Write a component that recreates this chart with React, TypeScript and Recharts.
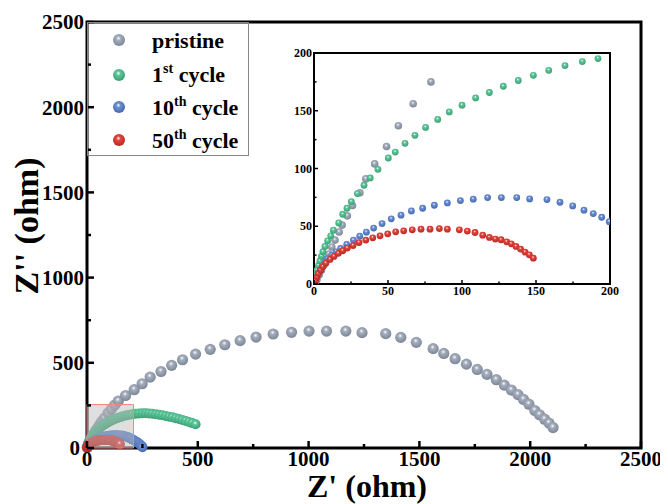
import React from 'react'

import { ScatterChart, Scatter, XAxis, YAxis, ReferenceArea } from 'recharts'

const serif = "'Liberation Serif', serif"

// pristine
const pristineX = [1, 2, 3.5, 5, 6.5, 8, 10, 12, 14.2, 17, 19, 22.5, 26, 31, 35, 41, 49, 57, 67, 79, 95, 110, 125, 141, 174, 213, 249, 285, 334, 382, 431, 490, 556, 622, 691, 763, 840, 923, 1002, 1081, 1168, 1241, 1348, 1416, 1486, 1562, 1610, 1661, 1712, 1761, 1805, 1847, 1883, 1915, 1945, 1970, 1994, 2021, 2042, 2065, 2085, 2103]
const pristineY = [2, 4, 8, 12, 16, 21, 26, 32, 38, 45, 51, 59, 68, 79, 91, 104, 119, 137, 156, 175, 205, 228, 252, 275, 308, 342, 377, 416, 449, 485, 518, 551, 579, 606, 630, 651, 669, 679, 686, 686, 686, 677, 671, 649, 620, 583, 555, 524, 492, 461, 432, 401, 369, 340, 313, 285, 257, 220, 195, 169, 146, 120]

// 1st cycle
const cycle1X = [0.5, 1, 1.5, 2, 3, 4, 5, 6, 7.4, 9.2, 11.3, 13.1, 16.7, 19.4, 22.3, 25.2, 29.3, 33.8, 38, 43.2, 50.2, 54.9, 61.5, 68.2, 75.4, 83.6, 91.4, 100, 109.2, 118.5, 127.9, 138, 148.2, 158.6, 169.6, 181.3, 191.9, 205, 220, 235, 250, 265, 280, 295, 310, 325, 340, 355, 370, 385, 400, 415, 430, 445, 460, 475, 490]
const cycle1Y = [3, 6, 9, 12, 16, 20, 24, 28, 32.5, 37.4, 41.7, 46.6, 52.9, 60.4, 65.6, 71.3, 78.3, 85.5, 91.8, 99.3, 109.1, 114.2, 121.8, 128.7, 135.6, 142.5, 149, 154.8, 161.1, 165.8, 171.2, 176.2, 180.7, 185, 189.1, 192.6, 195.2, 198, 201, 203, 204, 204, 203, 201, 198, 195, 192, 188, 184, 180, 175, 170, 165, 159, 153, 146, 139]

// 10th cycle
const cycle10X = [1.2, 1.9, 3, 4.1, 5.7, 7.3, 9.1, 12, 14.9, 18, 22.1, 26.6, 30.9, 35.4, 40.3, 46, 52.2, 58.8, 65.8, 73.4, 81.3, 90.1, 98.9, 107.6, 117.3, 126.6, 137, 145.7, 157.4, 166.2, 174.8, 182.4, 188.7, 194.4, 199.5, 206, 213, 221, 229, 236, 242, 247, 250]
const cycle10Y = [3, 6, 9.4, 12.2, 15.7, 18.5, 22, 25, 27.9, 30.8, 34.2, 38, 41.4, 44.9, 48.4, 52.3, 56.4, 59.6, 63.3, 65.6, 68.2, 70.2, 72.2, 73.4, 74.8, 74.8, 74.8, 73.7, 73.1, 70.8, 67.6, 63.9, 61, 57.8, 54, 49, 44, 38, 32, 25, 18, 11, 5]

// 50th cycle
const cycle50X = [1, 2, 3, 4.5, 6, 8, 10.8, 13.5, 16.4, 19.4, 22.5, 26.4, 30.4, 35, 39.7, 44.6, 49.8, 55.2, 60.6, 66.4, 72.3, 78.4, 84.7, 90.1, 98.2, 103.6, 108.8, 114, 118.5, 122.5, 126.4, 130.2, 133.3, 136.5, 139.6, 142.6, 145.5, 148.2]
const cycle50Y = [3, 6, 9, 12, 15, 18, 21.3, 23.9, 26.5, 28.8, 31.1, 33.3, 35.9, 38, 40, 41.7, 43.4, 45.2, 46, 46.9, 47.5, 47.5, 48, 47.5, 46.9, 45.8, 44.6, 42.3, 40.3, 38.9, 38.3, 36.5, 34.8, 32.5, 30.2, 27.6, 25.3, 22.4]

const mainTicks = [0, 250, 500, 750, 1000, 1250, 1500, 1750, 2000, 2250, 2500]
const insetTicks = [0, 25, 50, 75, 100, 125, 150, 175, 200]

const toPoints = (xs: number[], ys: number[]) => xs.map((x, i) => ({ x, y: ys[i] }))

const series = [
  { id: 'pristine', name: 'pristine', sup: '', tail: '', color: '#a5aebc', dark: '#7c8596', data: toPoints(pristineX, pristineY) },
  { id: 'c1', name: '1', sup: 'st', tail: ' cycle', color: '#5ec89b', dark: '#3a9f73', data: toPoints(cycle1X, cycle1Y) },
  { id: 'c10', name: '10', sup: 'th', tail: ' cycle', color: '#6c90d4', dark: '#4668ad', data: toPoints(cycle10X, cycle10Y) },
  { id: 'c50', name: '50', sup: 'th', tail: ' cycle', color: '#e5453f', dark: '#b82723', data: toPoints(cycle50X, cycle50Y) }
]

const Gradients = ({ prefix }: { prefix: string }) => (
  <defs>
    {series.map(s => (
      <radialGradient key={s.id} id={prefix + s.id} cx="0.45" cy="0.4" r="0.6" fx="0.45" fy="0.35">
        <stop offset="0" stopColor="#ffffff" />
        <stop offset="0.3" stopColor={s.color} />
        <stop offset="1" stopColor={s.dark} />
      </radialGradient>
    ))}
  </defs>
)

const ball = (fill: string, r: number) => (props: any) => (
  <circle cx={props.cx} cy={props.cy} r={r} fill={fill} />
)

const MainXTick = ({ x, y, payload }: any) => {
  const v = payload.value
  const major = v % 500 === 0
  return (
    <g>
      <line x1={x} x2={x} y1={y} y2={y - (major ? 7 : 4)} stroke="#000" strokeWidth={2.5} />
      {major && (
        <text x={x} y={y + 18} textAnchor="middle" fontFamily={serif} fontWeight="bold" fontSize={21} fill="#000">{v}</text>
      )}
    </g>
  )
}

const MainYTick = ({ x, y, payload }: any) => {
  const v = payload.value
  const major = v % 500 === 0
  // the zero label sits a little further left so it clears the x axis "0"
  const gap = v === 0 ? 7 : 3
  return (
    <g>
      <line x1={x} x2={x + (major ? 7 : 4)} y1={y} y2={y} stroke="#000" strokeWidth={2.5} />
      {major && (
        <text x={x - gap} y={y} dy="0.35em" textAnchor="end" fontFamily={serif} fontWeight="bold" fontSize={21} fill="#000">{v}</text>
      )}
    </g>
  )
}

const InsetXTick = ({ x, y, payload }: any) => {
  const v = payload.value
  const major = v % 50 === 0
  return (
    <g>
      <line x1={x} x2={x} y1={y} y2={y - (major ? 4 : 2.5)} stroke="#000" strokeWidth={1.5} />
      {major && (
        <text x={x} y={y + 11} textAnchor="middle" fontFamily={serif} fontWeight="bold" fontSize={12} fill="#000">{v}</text>
      )}
    </g>
  )
}

const InsetYTick = ({ x, y, payload }: any) => {
  const v = payload.value
  const major = v % 50 === 0
  return (
    <g>
      <line x1={x} x2={x + (major ? 4 : 2.5)} y1={y} y2={y} stroke="#000" strokeWidth={1.5} />
      {major && (
        <text x={x - 2} y={y} dy="0.35em" textAnchor="end" fontFamily={serif} fontWeight="bold" fontSize={12} fill="#000">{v}</text>
      )}
    </g>
  )
}

const legendRows = [31.3, 65.7, 98.3, 131.3]

const App = () => {
  return (
    <div style={{ position: 'relative', width: 660, height: 496, fontFamily: serif }}>
      <ScatterChart width={660} height={496} margin={{ top: 14, right: 27, bottom: 0, left: 0 }}>
        <Gradients prefix="m-" />
        <XAxis type="number" dataKey="x" domain={[0, 2500]} ticks={mainTicks} interval={0} height={56}
          axisLine={false} tickLine={false} tickSize={0} tickMargin={0} tick={<MainXTick />} />
        <YAxis type="number" dataKey="y" domain={[0, 2500]} ticks={mainTicks} interval={0} width={79}
          axisLine={false} tickLine={false} tickSize={0} tickMargin={0} tick={<MainYTick />} />
        {series.map(s => (
          <Scatter key={s.id} data={s.data} isAnimationActive={false}
            shape={ball(`url(#m-${s.id})`, s.id === 'pristine' ? 5.6 : 5)} />
        ))}
        <ReferenceArea x1={0} x2={210} y1={0} y2={255} fill="#b8b8b8" fillOpacity={0.45} stroke="#f08585" strokeWidth={1} zIndex={900} />
        <ReferenceArea x1={0} x2={2500} y1={0} y2={2500} fill="none" stroke="#000" strokeWidth={3} />
      </ScatterChart>

      <svg width={660} height={496} style={{ position: 'absolute', left: 0, top: 0, pointerEvents: 'none' }}>
        <text x={359} y={489} textAnchor="middle" fontFamily={serif} fontWeight="bold" fontSize={32} fill="#000">Z' (ohm)</text>
        <text transform="translate(30,218) rotate(-90)" textAnchor="middle" fontFamily={serif} fontWeight="bold" fontSize={34} fill="#000">Z'' (ohm)</text>
      </svg>

      <div style={{ position: 'absolute', left: 79, top: 14, width: 162, height: 134, border: '1px solid #888', boxSizing: 'border-box' }}>
        {series.map((s, i) => (
          <div key={s.id} style={{ position: 'absolute', left: 0, top: legendRows[i] - 16.5 - 14, height: 33, lineHeight: '33px', whiteSpace: 'nowrap' }}>
            <svg width={14} height={14} style={{ position: 'absolute', left: 24, top: 9.5 }}>
              <Gradients prefix={`l${i}-`} />
              <circle cx={7} cy={7} r={6} fill={`url(#l${i}-${s.id})`} />
            </svg>
            <span style={{ position: 'absolute', left: 64, fontSize: 22, fontWeight: 'bold', color: '#000' }}>
              {s.name}
              {s.sup && <sup style={{ fontSize: 14, verticalAlign: 'top', lineHeight: '22px' }}>{s.sup}</sup>}
              {s.tail}
            </span>
          </div>
        ))}
      </div>

      <div style={{ position: 'absolute', left: 306, top: 45, width: 296, height: 231, background: '#fff' }} />
      <div style={{ position: 'absolute', left: 276, top: 37 }}>
        <ScatterChart width={340} height={262} margin={{ top: 8, right: 14, bottom: 0, left: 0 }}>
          <Gradients prefix="i-" />
          <XAxis type="number" dataKey="x" domain={[0, 200]} ticks={insetTicks} interval={0} height={23} allowDataOverflow
            axisLine={false} tickLine={false} tickSize={0} tickMargin={0} tick={<InsetXTick />} />
          <YAxis type="number" dataKey="y" domain={[0, 200]} ticks={insetTicks} interval={0} width={30} allowDataOverflow
            axisLine={false} tickLine={false} tickSize={0} tickMargin={0} tick={<InsetYTick />} />
          {series.map(s => (
            <Scatter key={s.id} data={s.data} isAnimationActive={false}
              shape={ball(`url(#i-${s.id})`, s.id === 'pristine' ? 3.8 : 3.4)} />
          ))}
          <ReferenceArea x1={0} x2={200} y1={0} y2={200} fill="none" stroke="#000" strokeWidth={2} />
        </ScatterChart>
      </div>
    </div>
  )
}

export default App
